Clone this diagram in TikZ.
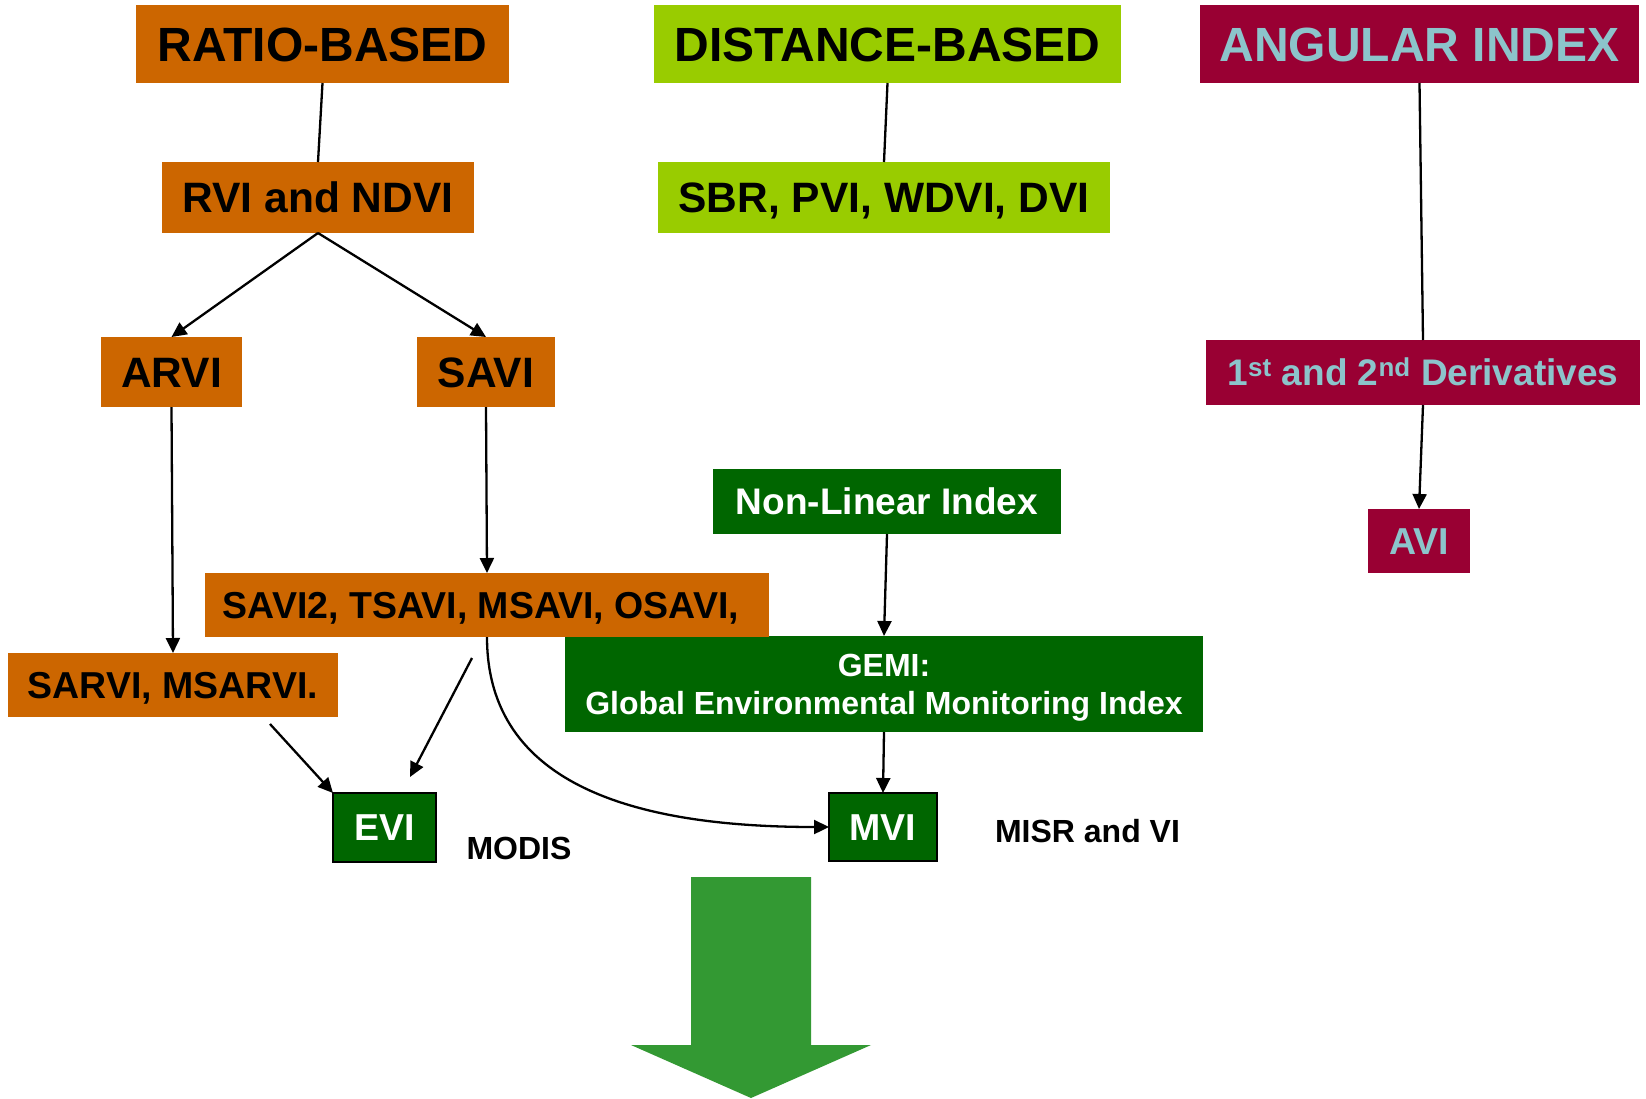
\documentclass[tikz,border=0pt]{standalone}
\usepackage{fontspec}
\setmainfont{Liberation Sans}
\usetikzlibrary{arrows.meta}
\definecolor{ratioorange}{HTML}{CC6600}
\definecolor{distgreen}{HTML}{99CC00}
\definecolor{angmaroon}{HTML}{990033}
\definecolor{angteal}{HTML}{8CC4CB}
\definecolor{nlgreen}{HTML}{006600}
\definecolor{bigarrow}{HTML}{339933}
\begin{document}
\begin{tikzpicture}[x=1pt,y=-1pt,
  box/.style={rectangle, inner sep=0pt, outer sep=0pt, text depth=0pt},
  fbig/.style={font=\fontsize{48}{56}\selectfont\bfseries, text height=34pt},
  fmid/.style={font=\fontsize{42.5}{50}\selectfont\bfseries, text height=30pt},
  fsmall/.style={font=\fontsize{37.5}{44}\selectfont\bfseries, text height=26.5pt},
  ftiny/.style={font=\fontsize{32}{38}\selectfont\bfseries, text height=22.5pt},
  ratiobox/.style={box, fill=ratioorange, text=black},
  distbox/.style={box, fill=distgreen, text=black},
  angbox/.style={box, fill=angmaroon, text=angteal},
  nlbox/.style={box, fill=nlgreen, text=white},
  satbox/.style={nlbox, draw=black, line width=2.5pt},
  link/.style={line width=2.3pt, draw=black},
  arr/.style={link, -{Triangle[length=15pt,width=14pt]}},
]
\useasboundingbox (0,0) rectangle (1646,1098);
\fill[white] (0,0) rectangle (1646,1098);

% column headings
\node[ratiobox, fbig, minimum width=373pt, minimum height=78pt] (ratio) at (322.5,44) {RATIO-BASED};
\node[distbox, fbig, minimum width=467pt, minimum height=78pt] (dist) at (887.5,44) {DISTANCE-BASED};
\node[angbox, fbig, minimum width=439pt, minimum height=78pt] (ang) at (1419.5,44) {ANGULAR INDEX};

% ratio-based family
\node[ratiobox, fmid, minimum width=312pt, minimum height=71pt] (rvi) at (318,197.5) {RVI and NDVI};
\node[ratiobox, fmid, minimum width=141pt, minimum height=70pt] (arvi) at (171.5,372) {ARVI};
\node[ratiobox, fmid, minimum width=138pt, minimum height=70pt] (savi) at (486,372) {SAVI};
\node[ratiobox, fsmall, minimum width=330pt, minimum height=64pt] (sarvi) at (173,685) {SARVI, MSARVI.};

% distance-based family
\node[distbox, fmid, minimum width=452pt, minimum height=71pt] (sbr) at (884,197.5) {SBR, PVI, WDVI, DVI};

% angular family
\node[angbox, font=\fontsize{37}{44}\selectfont\bfseries, text height=26pt, minimum width=434pt, minimum height=65pt] (deriv) at (1423,372.5) {1\textsuperscript{st} and 2\textsuperscript{nd} Derivatives};
\node[angbox, fsmall, minimum width=102pt, minimum height=64pt] (avi) at (1419,541) {AVI};

% non-linear family
\node[nlbox, font=\fontsize{37}{44}\selectfont\bfseries, text height=26.5pt, minimum width=348pt, minimum height=65pt] (nonlin) at (887,501.5) {Non-Linear Index};
\node[nlbox, font=\fontsize{32}{38}\selectfont\bfseries, align=center, minimum width=638pt, minimum height=96pt] (gemi) at (884,684) {GEMI:\\Global Environmental Monitoring Index};
\node[ratiobox, fsmall, minimum width=564pt, minimum height=64pt, inner xsep=0pt] (savi2) at (487,605) {SAVI2, TSAVI, MSAVI, OSAVI,\hspace*{12pt}};

% sensor products
\node[satbox, fsmall, minimum width=103pt, minimum height=69pt] (evi) at (384.5,827.5) {EVI};
\node[satbox, fsmall, minimum width=108pt, minimum height=68pt] (mvi) at (883,827) {MVI};
\node[box, ftiny, text=black] (modis) at (519,848.5) {MODIS};
\node[box, ftiny, text=black] (misr) at (1087.5,831) {MISR and VI};

% free ends of the two short arrows into EVI
\coordinate (sarviout) at (270,724);
\coordinate (savi2out) at (472,658);
\coordinate (eviin) at (410,777);

% connectors
\draw[link] (ratio.south) -- (rvi.north);
\draw[link] (dist.south) -- (sbr.north);
\draw[link] (ang.south) -- (deriv.north);
\draw[arr] (rvi.south) -- (arvi.north);
\draw[arr] (rvi.south) -- (savi.north);
\draw[arr] (arvi.south) -- (sarvi.north);
\draw[arr] (savi.south) -- (savi2.north);
\draw[arr] (deriv.south) -- (avi.north);
\draw[arr] (nonlin.south) -- (gemi.north);
\draw[arr] (gemi.south) -- (mvi.north);
\draw[arr] (sarviout) -- (evi.north west);
\draw[arr] (savi2out) -- (eviin);
\draw[arr] (savi2.south) .. controls +(0,150) and +(-190,0) .. (mvi.west);

% large downward arrow
\fill[bigarrow] (691,877) -- (811,877) -- (811,1045) -- (871,1045) -- (751,1098)
  -- (631,1045) -- (691,1045) -- cycle;
\end{tikzpicture}
\end{document}
